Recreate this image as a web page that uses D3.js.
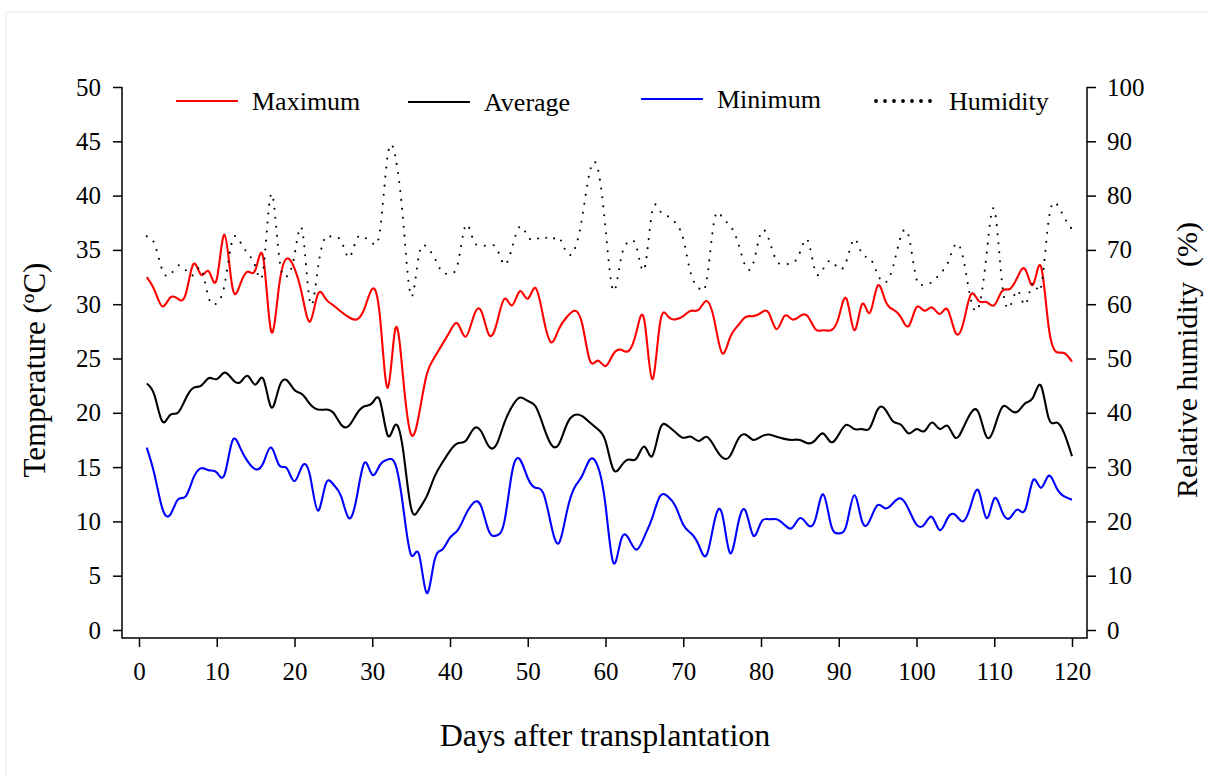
<!DOCTYPE html>
<html>
<head>
<meta charset="utf-8">
<script src="https://cdn.jsdelivr.net/npm/d3@7"></script>
<style>
  body { margin: 0; background: #fff; }
  svg { display: block; font-family: 'Liberation Serif', 'Times New Roman', serif; }
  .axis text { font-size: 25px; fill: #000; }
  .axis line { stroke: #000; stroke-width: 1.5; }
  .series { fill: none; stroke-width: 2.1; }
</style>
</head>
<body>
<svg id="chart" width="1207" height="776"></svg>
<script>
// Days after transplantation
var days = d3.range(1, 121)

// Temperatures (ºC), one value per day
var maxTemp = [
  32.5, 31.3, 29.8, 30.6, 30.5, 30.9, 33.7, 32.7, 33.0, 32.3,
  36.4, 31.6, 31.8, 33.0, 33.2, 34.2, 27.5, 31.6, 34.2, 33.3,
  30.8, 28.4, 30.9, 30.5, 29.9, 29.3, 28.8, 28.6, 29.6, 31.4,
  28.8, 22.3, 27.8, 23.0, 18.0, 19.8, 23.5, 25.1, 26.3, 27.5,
  28.2, 27.0, 28.8, 29.4, 27.2, 28.2, 30.5, 29.9, 31.2, 30.5,
  31.5, 28.8, 26.5, 27.7, 28.8, 29.4, 28.2, 24.8, 24.8, 24.3,
  25.4, 25.8, 25.7, 27.5, 28.5, 23.1, 28.2, 28.9, 28.6, 28.9,
  29.4, 29.5, 30.3, 28.5, 25.5, 26.9, 28.0, 28.8, 28.9, 29.2,
  29.2, 27.7, 28.9, 28.6, 28.9, 28.9, 27.7, 27.6, 27.6, 28.8,
  30.5, 27.6, 30.0, 29.2, 31.7, 30.3, 29.5, 28.8, 28.0, 29.7,
  29.4, 29.7, 29.1, 29.5, 27.4, 28.2, 30.9, 30.3, 30.2, 29.9,
  31.2, 31.4, 32.5, 33.2, 31.8, 33.5, 27.9, 25.6, 25.5, 24.7
]

var avgTemp = [
  22.7, 21.6, 19.2, 19.8, 20.0, 21.3, 22.3, 22.5, 23.2, 23.1,
  23.7, 23.1, 22.8, 23.4, 22.6, 23.1, 20.5, 22.3, 23.0, 22.1,
  21.7, 20.8, 20.3, 20.3, 20.0, 18.9, 18.8, 19.9, 20.6, 20.9,
  21.1, 17.9, 18.9, 16.4, 11.2, 11.1, 12.3, 14.1, 15.4, 16.5,
  17.2, 17.4, 18.5, 18.3, 16.9, 17.1, 19.1, 20.6, 21.4, 21.1,
  20.6, 18.8, 17.1, 17.1, 18.9, 19.8, 19.7, 19.1, 18.5, 17.4,
  14.8, 15.1, 15.7, 15.8, 16.9, 16.0, 18.5, 18.8, 18.2, 17.7,
  17.8, 17.4, 17.8, 16.9, 15.9, 16.0, 17.5, 18.0, 17.5, 17.8,
  18.0, 17.8, 17.6, 17.5, 17.5, 17.2, 17.5, 18.1, 17.3, 18.0,
  18.9, 18.5, 18.5, 18.6, 20.3, 20.3, 19.2, 18.9, 18.1, 18.5,
  18.3, 19.1, 18.5, 18.8, 17.7, 18.6, 20.0, 20.0, 17.8, 18.6,
  20.5, 20.3, 20.1, 20.9, 21.4, 22.5, 19.5, 19.1, 18.1, 16.0
]

var minTemp = [
  16.8, 14.3, 11.2, 10.6, 12.0, 12.3, 14.0, 14.9, 14.7, 14.5,
  14.3, 17.4, 16.8, 15.5, 14.8, 15.4, 16.8, 15.2, 14.9, 13.7,
  15.1, 14.2, 11.0, 13.4, 13.4, 12.3, 10.3, 12.2, 15.4, 14.3,
  15.2, 15.7, 15.2, 11.2, 6.9, 7.0, 3.4, 6.4, 7.4, 8.5,
  9.2, 10.6, 11.7, 11.4, 9.1, 8.7, 10.0, 14.6, 15.7, 14.0,
  13.1, 12.6, 9.7, 8.0, 10.8, 13.1, 14.2, 15.7, 15.1, 11.5,
  6.2, 8.3, 8.4, 7.4, 8.6, 10.3, 12.3, 12.3, 11.4, 9.7,
  8.9, 7.8, 6.9, 10.0, 10.7, 7.1, 9.6, 11.0, 8.7, 9.9,
  10.2, 10.2, 9.7, 9.4, 10.3, 9.7, 10.2, 12.5, 9.7, 8.9,
  9.7, 12.4, 10.0, 10.1, 11.5, 11.2, 11.7, 12.1, 11.1, 9.7,
  9.7, 10.4, 9.2, 10.3, 10.6, 10.0, 11.5, 12.8, 10.3, 12.1,
  10.9, 10.3, 11.1, 11.1, 13.8, 13.1, 14.2, 13.1, 12.3, 12.0
]

// Relative humidity (%)
var humidity = [
  72.5, 71.1, 66.3, 65.4, 67.1, 66.3, 65.4, 66.5, 61.0, 60.2,
  63.5, 71.7, 71.5, 69.3, 66.8, 66.5, 80.3, 69.0, 65.1, 69.0,
  73.6, 60.3, 66.5, 72.4, 72.2, 71.7, 68.6, 72.0, 72.3, 71.3,
  73.6, 87.5, 87.0, 75.0, 61.5, 69.0, 70.5, 68.6, 65.9, 65.7,
  67.4, 74.5, 71.8, 70.8, 70.8, 70.3, 67.3, 70.5, 74.3, 72.5,
  71.8, 72.5, 71.8, 72.3, 69.5, 70.0, 76.0, 84.5, 85.0, 74.0,
  62.5, 68.5, 71.5, 70.5, 66.5, 77.0, 77.2, 76.2, 75.0, 72.0,
  65.5, 63.0, 64.3, 75.5, 76.0, 74.5, 71.5, 67.0, 67.5, 73.2,
  72.0, 68.0, 67.4, 67.5, 69.5, 71.8, 66.0, 66.5, 68.0, 66.5,
  68.0, 72.0, 69.2, 68.5, 65.5, 64.0, 67.0, 72.5, 72.5, 64.6,
  63.8, 64.0, 65.6, 67.5, 71.0, 68.5, 60.8, 59.5, 69.0, 77.5,
  64.0, 59.5, 62.5, 59.9, 64.0, 63.0, 75.5, 78.5, 76.0, 73.8
]

// Tick labels
var dayTicks = d3.range(0, 121, 10)
var tempTicks = d3.range(0, 51, 5)
var humTicks = d3.range(0, 101, 10)

var svg = d3.select('#chart')

// Faint outer frame
svg.append('rect')
  .attr('x', 6).attr('y', 12)
  .attr('width', 1220).attr('height', 800)
  .attr('fill', 'none')
  .attr('stroke', '#e6e6e6')

// Scales
var x = d3.scaleLinear().domain([0, 120]).range([139, 1072])
var yT = d3.scaleLinear().domain([0, 50]).range([630, 87])
var yH = d3.scaleLinear().domain([0, 100]).range([630, 87])

// Box (open at the top)
svg.append('path')
  .attr('d', 'M122,87V638H1087V87')
  .attr('fill', 'none')
  .attr('stroke', '#000')
  .attr('stroke-width', 1.5)

// Axes
svg.append('g')
  .attr('class', 'axis')
  .attr('transform', 'translate(0,638)')
  .call(d3.axisBottom(x).tickValues(dayTicks).tickSize(9).tickPadding(15))

svg.append('g')
  .attr('class', 'axis')
  .attr('transform', 'translate(122,0)')
  .call(d3.axisLeft(yT).tickValues(tempTicks).tickSize(9).tickPadding(12))

svg.append('g')
  .attr('class', 'axis')
  .attr('transform', 'translate(1087,0)')
  .call(d3.axisRight(yH).tickValues(humTicks).tickSize(9).tickPadding(11))

// d3 sets sans-serif on axis groups; use the page font instead
svg.selectAll('.axis')
  .attr('font-family', null)
  .attr('font-size', null)
svg.selectAll('.axis .domain').remove()

// Series
var series = [
  {values: maxTemp, scale: yT, colour: '#ff0000', dash: null},
  {values: avgTemp, scale: yT, colour: '#000000', dash: null},
  {values: minTemp, scale: yT, colour: '#0000ff', dash: null},
  {values: humidity, scale: yH, colour: '#000000', dash: '0 9'}
]

series.forEach(function(s) {
  var line = d3.line()
    .x((d, i) => x(days[i]))
    .y(d => s.scale(d))
    .curve(d3.curveNatural)

  var path = svg.append('path')
    .datum(s.values)
    .attr('class', 'series')
    .attr('stroke', s.colour)
    .attr('d', line)

  if (s.dash) {
    path.attr('stroke-dasharray', s.dash)
      .attr('stroke-linecap', 'round')
      .attr('stroke-width', 3.8)
  }
})

// Legend
var legend = [
  {label: 'Maximum', colour: '#ff0000', dash: null, x: 176, y: 101},
  {label: 'Average', colour: '#000000', dash: null, x: 408, y: 102},
  {label: 'Minimum', colour: '#0000ff', dash: null, x: 641, y: 99},
  {label: 'Humidity', colour: '#000000', dash: '0 9', x: 873, y: 101}
]

legend.forEach(function(l) {
  var g = svg.append('g').attr('transform', 'translate(' + l.x + ',' + l.y + ')')
  var ln = g.append('line')
    .attr('x1', 0).attr('x2', 62)
    .attr('stroke', l.colour)
    .attr('stroke-width', 2)
  if (l.dash) {
    ln.attr('x1', 3).attr('stroke-dasharray', l.dash)
      .attr('stroke-linecap', 'round')
      .attr('stroke-width', 3.8)
  }
  g.append('text')
    .attr('x', 76)
    .attr('y', 9)
    .attr('font-size', 26)
    .text(l.label)
})

// Axis titles
svg.append('text')
  .attr('x', 605).attr('y', 746)
  .attr('text-anchor', 'middle')
  .attr('font-size', 32)
  .text('Days after transplantation')

svg.append('text')
  .attr('transform', 'translate(45,370) rotate(-90)')
  .attr('text-anchor', 'middle')
  .attr('font-size', 31)
  .text('Temperature (ºC)')

svg.append('text')
  .attr('transform', 'translate(1197,360) rotate(-90)')
  .attr('text-anchor', 'middle')
  .attr('font-size', 30)
  .style('white-space', 'pre')
  .text('Relative humidity  (%)')
</script>
</body>
</html>
